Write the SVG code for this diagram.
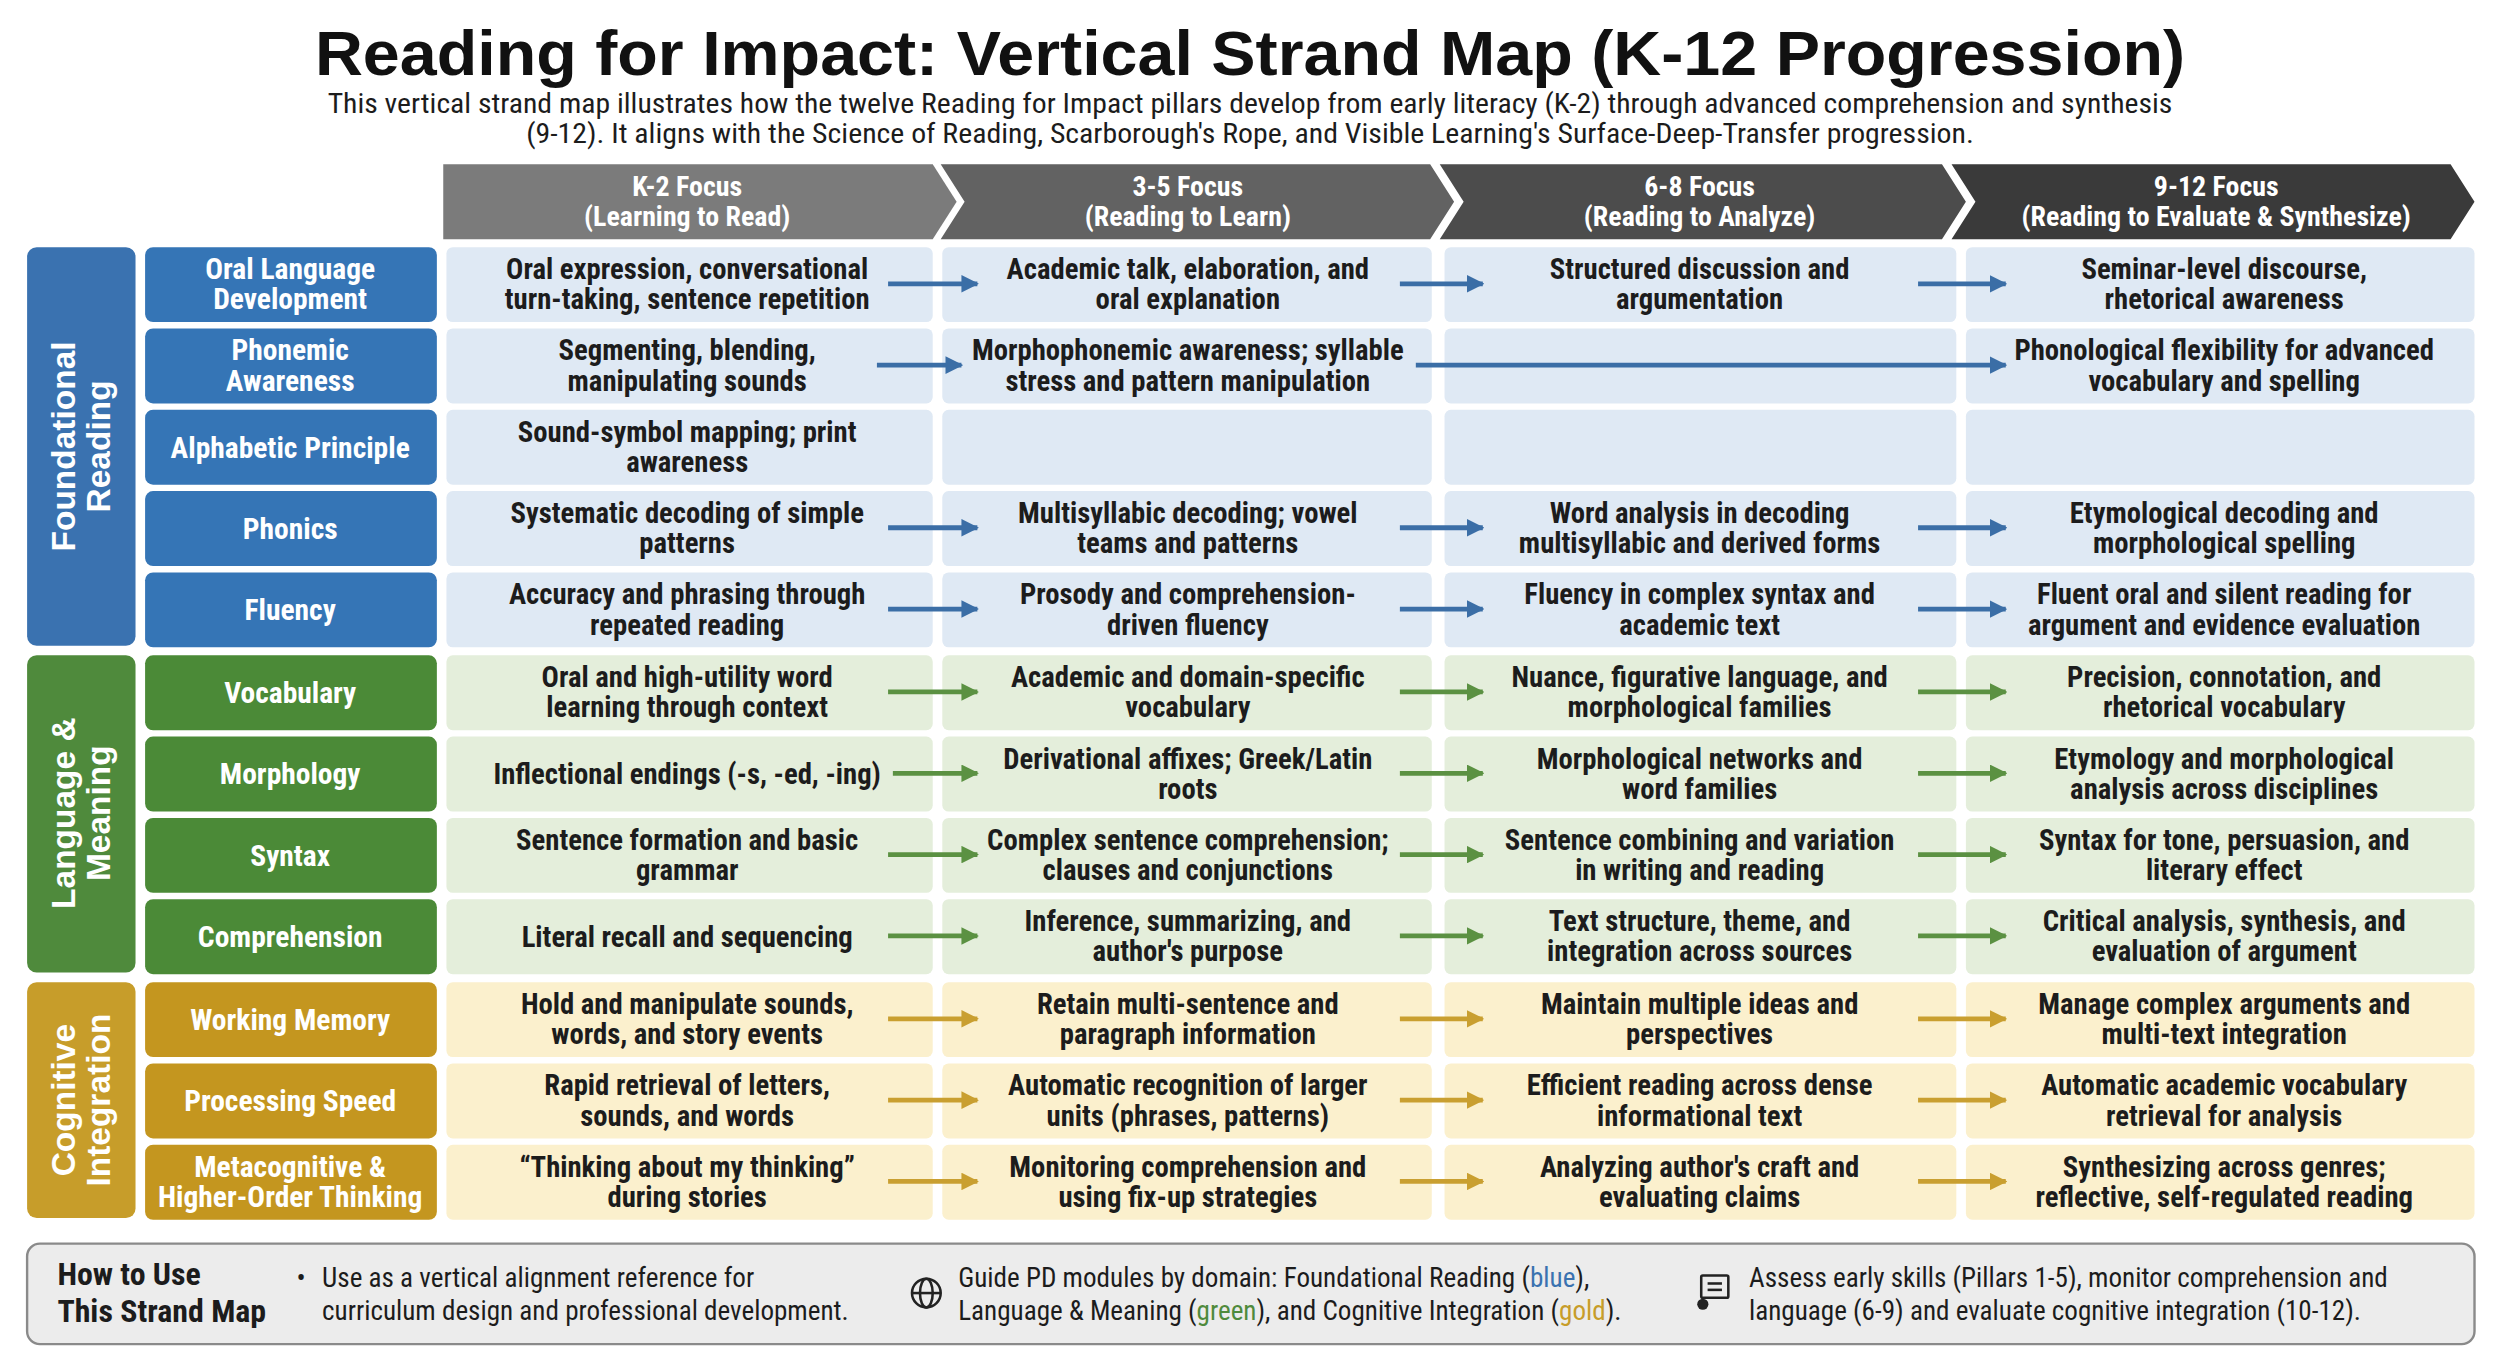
<svg xmlns="http://www.w3.org/2000/svg" width="2500" height="1364" viewBox="0 0 2500 1364">
<style>
.n{font-family:"Liberation Sans Narrow","Roboto Condensed","DejaVu Sans Condensed",sans-serif;font-weight:bold}
.c{font-size:18px;fill:#1c1c1c;text-anchor:middle}
.p{font-size:18.5px;fill:#fff;text-anchor:middle}
.h{font-size:17.5px;fill:#fff;text-anchor:middle}
.s{font-family:"Liberation Sans",Arial,sans-serif;font-weight:bold;font-size:21px;fill:#fff;text-anchor:middle}
.cb{fill:#dfe9f4}.cg{fill:#e4eedb}.cy{fill:#fbf0cd}
.ab{stroke:#3b6ea6;stroke-width:3;marker-end:url(#mb)}
.ag{stroke:#5b9142;stroke-width:3;marker-end:url(#mg)}
.ay{stroke:#c99f30;stroke-width:3;marker-end:url(#my)}
.f{font-family:"Liberation Sans Narrow","Roboto Condensed","DejaVu Sans Condensed",sans-serif;font-size:17px;fill:#1c1c1c}
</style>
<defs>
<marker id="mb" markerWidth="11" markerHeight="11" refX="10" refY="5.5" orient="auto" markerUnits="userSpaceOnUse"><path d="M0,0 L11,5.5 L0,11 z" fill="#3b6ea6"/></marker>
<marker id="mg" markerWidth="11" markerHeight="11" refX="10" refY="5.5" orient="auto" markerUnits="userSpaceOnUse"><path d="M0,0 L11,5.5 L0,11 z" fill="#5b9142"/></marker>
<marker id="my" markerWidth="11" markerHeight="11" refX="10" refY="5.5" orient="auto" markerUnits="userSpaceOnUse"><path d="M0,0 L11,5.5 L0,11 z" fill="#c99f30"/></marker>
</defs>
<rect width="2500" height="1364" fill="#fff"/>
<g transform="scale(1.5944)">
<g id="title">
<text x="784" y="47" text-anchor="middle" font-family="Liberation Sans,Arial,sans-serif" font-weight="bold" font-size="40" fill="#111" textLength="1173" lengthAdjust="spacingAndGlyphs">Reading for Impact: Vertical Strand Map (K-12 Progression)</text>
<text x="784" y="71" text-anchor="middle" class="f" font-size="17" textLength="1157" lengthAdjust="spacingAndGlyphs">This vertical strand map illustrates how the twelve Reading for Impact pillars develop from early literacy (K-2) through advanced comprehension and synthesis</text>
<text x="784" y="90" text-anchor="middle" class="f" font-size="17" textLength="908" lengthAdjust="spacingAndGlyphs">(9-12). It aligns with the Science of Reading, Scarborough's Rope, and Visible Learning's Surface-Deep-Transfer progression.</text>
</g>
<g id="headers">
<polygon points="278,103 585,103 600,126.5 585,150 278,150" fill="#7b7b7b"/>
<polygon points="590,103 897,103 912,126.5 897,150 590,150 605,126.5" fill="#626262"/>
<polygon points="903,103 1218,103 1233,126.5 1218,150 903,150 918,126.5" fill="#4c4c4c"/>
<polygon points="1224,103 1537,103 1552,126.5 1537,150 1224,150 1239,126.5" fill="#3a3a3a"/>
<text class="n h" x="431" y="123">K-2 Focus</text><text class="n h" x="431" y="142">(Learning to Read)</text>
<text class="n h" x="745" y="123">3-5 Focus</text><text class="n h" x="745" y="142">(Reading to Learn)</text>
<text class="n h" x="1066" y="123">6-8 Focus</text><text class="n h" x="1066" y="142">(Reading to Analyze)</text>
<text class="n h" x="1390" y="123">9-12 Focus</text><text class="n h" x="1390" y="142">(Reading to Evaluate &amp; Synthesize)</text>
</g>
<g id="strands">
<rect x="17" y="155" width="68" height="250" rx="6" fill="#3a72b0"/>
<text class="s" transform="translate(51,280) rotate(-90)"><tspan x="0" y="-4">Foundational</tspan><tspan x="0" y="18">Reading</tspan></text>
<rect x="17" y="411" width="68" height="199" rx="6" fill="#4f8a3c"/>
<text class="s" transform="translate(51,510) rotate(-90)"><tspan x="0" y="-4">Language &amp;</tspan><tspan x="0" y="18">Meaning</tspan></text>
<rect x="17" y="616" width="68" height="148" rx="6" fill="#c79d2a"/>
<text class="s" transform="translate(51,690) rotate(-90)"><tspan x="0" y="-4">Cognitive</tspan><tspan x="0" y="18">Integration</tspan></text>
</g>
<g id="pillars">
<rect x="91" y="155" width="183" height="47" rx="5" fill="#3575b6"/><text class="n p" x="182" y="175">Oral Language</text><text class="n p" x="182" y="194">Development</text>
<rect x="91" y="206" width="183" height="47" rx="5" fill="#3575b6"/><text class="n p" x="182" y="226">Phonemic</text><text class="n p" x="182" y="245">Awareness</text>
<rect x="91" y="257" width="183" height="47" rx="5" fill="#3575b6"/><text class="n p" x="182" y="287">Alphabetic Principle</text>
<rect x="91" y="308" width="183" height="47" rx="5" fill="#3575b6"/><text class="n p" x="182" y="338">Phonics</text>
<rect x="91" y="359" width="183" height="47" rx="5" fill="#3575b6"/><text class="n p" x="182" y="389">Fluency</text>
<rect x="91" y="411" width="183" height="47" rx="5" fill="#4b8a37"/><text class="n p" x="182" y="441">Vocabulary</text>
<rect x="91" y="462" width="183" height="47" rx="5" fill="#4b8a37"/><text class="n p" x="182" y="492">Morphology</text>
<rect x="91" y="513" width="183" height="47" rx="5" fill="#4b8a37"/><text class="n p" x="182" y="543">Syntax</text>
<rect x="91" y="564" width="183" height="47" rx="5" fill="#4b8a37"/><text class="n p" x="182" y="594">Comprehension</text>
<rect x="91" y="616" width="183" height="47" rx="5" fill="#c4961f"/><text class="n p" x="182" y="646">Working Memory</text>
<rect x="91" y="667" width="183" height="47" rx="5" fill="#c4961f"/><text class="n p" x="182" y="697">Processing Speed</text>
<rect x="91" y="718" width="183" height="47" rx="5" fill="#c4961f"/><text class="n p" x="182" y="738">Metacognitive &amp;</text><text class="n p" x="182" y="757">Higher-Order Thinking</text>
</g>
<g id="cells">
<g class="cb">
<rect x="280" y="155" width="305" height="47" rx="4"/><rect x="591" y="155" width="307" height="47" rx="4"/><rect x="906" y="155" width="321" height="47" rx="4"/><rect x="1233" y="155" width="319" height="47" rx="4"/>
<rect x="280" y="206" width="305" height="47" rx="4"/><rect x="591" y="206" width="307" height="47" rx="4"/><rect x="906" y="206" width="321" height="47" rx="4"/><rect x="1233" y="206" width="319" height="47" rx="4"/>
<rect x="280" y="257" width="305" height="47" rx="4"/><rect x="591" y="257" width="307" height="47" rx="4"/><rect x="906" y="257" width="321" height="47" rx="4"/><rect x="1233" y="257" width="319" height="47" rx="4"/>
<rect x="280" y="308" width="305" height="47" rx="4"/><rect x="591" y="308" width="307" height="47" rx="4"/><rect x="906" y="308" width="321" height="47" rx="4"/><rect x="1233" y="308" width="319" height="47" rx="4"/>
<rect x="280" y="359" width="305" height="47" rx="4"/><rect x="591" y="359" width="307" height="47" rx="4"/><rect x="906" y="359" width="321" height="47" rx="4"/><rect x="1233" y="359" width="319" height="47" rx="4"/>
</g>
<g class="cg">
<rect x="280" y="411" width="305" height="47" rx="4"/><rect x="591" y="411" width="307" height="47" rx="4"/><rect x="906" y="411" width="321" height="47" rx="4"/><rect x="1233" y="411" width="319" height="47" rx="4"/>
<rect x="280" y="462" width="305" height="47" rx="4"/><rect x="591" y="462" width="307" height="47" rx="4"/><rect x="906" y="462" width="321" height="47" rx="4"/><rect x="1233" y="462" width="319" height="47" rx="4"/>
<rect x="280" y="513" width="305" height="47" rx="4"/><rect x="591" y="513" width="307" height="47" rx="4"/><rect x="906" y="513" width="321" height="47" rx="4"/><rect x="1233" y="513" width="319" height="47" rx="4"/>
<rect x="280" y="564" width="305" height="47" rx="4"/><rect x="591" y="564" width="307" height="47" rx="4"/><rect x="906" y="564" width="321" height="47" rx="4"/><rect x="1233" y="564" width="319" height="47" rx="4"/>
</g>
<g class="cy">
<rect x="280" y="616" width="305" height="47" rx="4"/><rect x="591" y="616" width="307" height="47" rx="4"/><rect x="906" y="616" width="321" height="47" rx="4"/><rect x="1233" y="616" width="319" height="47" rx="4"/>
<rect x="280" y="667" width="305" height="47" rx="4"/><rect x="591" y="667" width="307" height="47" rx="4"/><rect x="906" y="667" width="321" height="47" rx="4"/><rect x="1233" y="667" width="319" height="47" rx="4"/>
<rect x="280" y="718" width="305" height="47" rx="4"/><rect x="591" y="718" width="307" height="47" rx="4"/><rect x="906" y="718" width="321" height="47" rx="4"/><rect x="1233" y="718" width="319" height="47" rx="4"/>
</g>
<g class="n c">
<text x="431" y="175">Oral expression, conversational</text><text x="431" y="194">turn-taking, sentence repetition</text>
<text x="745" y="175">Academic talk, elaboration, and</text><text x="745" y="194">oral explanation</text>
<text x="1066" y="175">Structured discussion and</text><text x="1066" y="194">argumentation</text>
<text x="1395" y="175">Seminar-level discourse,</text><text x="1395" y="194">rhetorical awareness</text>

<text x="431" y="226">Segmenting, blending,</text><text x="431" y="245">manipulating sounds</text>
<text x="745" y="226">Morphophonemic awareness; syllable</text><text x="745" y="245">stress and pattern manipulation</text>
<text x="1395" y="226">Phonological flexibility for advanced</text><text x="1395" y="245">vocabulary and spelling</text>

<text x="431" y="277">Sound-symbol mapping; print</text><text x="431" y="296">awareness</text>

<text x="431" y="328">Systematic decoding of simple</text><text x="431" y="347">patterns</text>
<text x="745" y="328">Multisyllabic decoding; vowel</text><text x="745" y="347">teams and patterns</text>
<text x="1066" y="328">Word analysis in decoding</text><text x="1066" y="347">multisyllabic and derived forms</text>
<text x="1395" y="328">Etymological decoding and</text><text x="1395" y="347">morphological spelling</text>

<text x="431" y="379">Accuracy and phrasing through</text><text x="431" y="398">repeated reading</text>
<text x="745" y="379">Prosody and comprehension-</text><text x="745" y="398">driven fluency</text>
<text x="1066" y="379">Fluency in complex syntax and</text><text x="1066" y="398">academic text</text>
<text x="1395" y="379">Fluent oral and silent reading for</text><text x="1395" y="398">argument and evidence evaluation</text>

<text x="431" y="431">Oral and high-utility word</text><text x="431" y="450">learning through context</text>
<text x="745" y="431">Academic and domain-specific</text><text x="745" y="450">vocabulary</text>
<text x="1066" y="431">Nuance, figurative language, and</text><text x="1066" y="450">morphological families</text>
<text x="1395" y="431">Precision, connotation, and</text><text x="1395" y="450">rhetorical vocabulary</text>

<text x="431" y="492">Inflectional endings (-s, -ed, -ing)</text>
<text x="745" y="482">Derivational affixes; Greek/Latin</text><text x="745" y="501">roots</text>
<text x="1066" y="482">Morphological networks and</text><text x="1066" y="501">word families</text>
<text x="1395" y="482">Etymology and morphological</text><text x="1395" y="501">analysis across disciplines</text>

<text x="431" y="533">Sentence formation and basic</text><text x="431" y="552">grammar</text>
<text x="745" y="533">Complex sentence comprehension;</text><text x="745" y="552">clauses and conjunctions</text>
<text x="1066" y="533">Sentence combining and variation</text><text x="1066" y="552">in writing and reading</text>
<text x="1395" y="533">Syntax for tone, persuasion, and</text><text x="1395" y="552">literary effect</text>

<text x="431" y="594">Literal recall and sequencing</text>
<text x="745" y="584">Inference, summarizing, and</text><text x="745" y="603">author's purpose</text>
<text x="1066" y="584">Text structure, theme, and</text><text x="1066" y="603">integration across sources</text>
<text x="1395" y="584">Critical analysis, synthesis, and</text><text x="1395" y="603">evaluation of argument</text>

<text x="431" y="636">Hold and manipulate sounds,</text><text x="431" y="655">words, and story events</text>
<text x="745" y="636">Retain multi-sentence and</text><text x="745" y="655">paragraph information</text>
<text x="1066" y="636">Maintain multiple ideas and</text><text x="1066" y="655">perspectives</text>
<text x="1395" y="636">Manage complex arguments and</text><text x="1395" y="655">multi-text integration</text>

<text x="431" y="687">Rapid retrieval of letters,</text><text x="431" y="706">sounds, and words</text>
<text x="745" y="687">Automatic recognition of larger</text><text x="745" y="706">units (phrases, patterns)</text>
<text x="1066" y="687">Efficient reading across dense</text><text x="1066" y="706">informational text</text>
<text x="1395" y="687">Automatic academic vocabulary</text><text x="1395" y="706">retrieval for analysis</text>

<text x="431" y="738">“Thinking about my thinking”</text><text x="431" y="757">during stories</text>
<text x="745" y="738">Monitoring comprehension and</text><text x="745" y="757">using fix-up strategies</text>
<text x="1066" y="738">Analyzing author's craft and</text><text x="1066" y="757">evaluating claims</text>
<text x="1395" y="738">Synthesizing across genres;</text><text x="1395" y="757">reflective, self-regulated reading</text>
</g>
</g>
<g id="connectors">
<line class="ab" x1="557" y1="178" x2="613" y2="178"/><line class="ab" x1="878" y1="178" x2="930" y2="178"/><line class="ab" x1="1203" y1="178" x2="1258" y2="178"/>
<line class="ab" x1="550" y1="229" x2="603" y2="229"/><line class="ab" x1="888" y1="229" x2="1258" y2="229"/>
<line class="ab" x1="557" y1="331" x2="613" y2="331"/><line class="ab" x1="878" y1="331" x2="930" y2="331"/><line class="ab" x1="1203" y1="331" x2="1258" y2="331"/>
<line class="ab" x1="557" y1="382" x2="613" y2="382"/><line class="ab" x1="878" y1="382" x2="930" y2="382"/><line class="ab" x1="1203" y1="382" x2="1258" y2="382"/>
<line class="ag" x1="557" y1="434" x2="613" y2="434"/><line class="ag" x1="878" y1="434" x2="930" y2="434"/><line class="ag" x1="1203" y1="434" x2="1258" y2="434"/>
<line class="ag" x1="560" y1="485" x2="613" y2="485"/><line class="ag" x1="878" y1="485" x2="930" y2="485"/><line class="ag" x1="1203" y1="485" x2="1258" y2="485"/>
<line class="ag" x1="557" y1="536" x2="613" y2="536"/><line class="ag" x1="878" y1="536" x2="930" y2="536"/><line class="ag" x1="1203" y1="536" x2="1258" y2="536"/>
<line class="ag" x1="557" y1="587" x2="613" y2="587"/><line class="ag" x1="878" y1="587" x2="930" y2="587"/><line class="ag" x1="1203" y1="587" x2="1258" y2="587"/>
<line class="ay" x1="557" y1="639" x2="613" y2="639"/><line class="ay" x1="878" y1="639" x2="930" y2="639"/><line class="ay" x1="1203" y1="639" x2="1258" y2="639"/>
<line class="ay" x1="557" y1="690" x2="613" y2="690"/><line class="ay" x1="878" y1="690" x2="930" y2="690"/><line class="ay" x1="1203" y1="690" x2="1258" y2="690"/>
<line class="ay" x1="557" y1="741" x2="613" y2="741"/><line class="ay" x1="878" y1="741" x2="930" y2="741"/><line class="ay" x1="1203" y1="741" x2="1258" y2="741"/>
</g>
<g id="howto">
<rect x="17" y="780" width="1535" height="63" rx="8" fill="#ececec" stroke="#8a8a8a" stroke-width="1.5"/>
<text class="n" x="36" y="806" font-size="20" fill="#1c1c1c">How to Use</text><text class="n" x="36" y="829" font-size="20" fill="#1c1c1c">This Strand Map</text>
<text class="f" x="186" y="807">•</text>
<text class="f" x="202" y="807">Use as a vertical alignment reference for</text><text class="f" x="202" y="828">curriculum design and professional development.</text>
<g fill="none" stroke="#222" stroke-width="1.6"><circle cx="581" cy="811" r="9"/><ellipse cx="581" cy="811" rx="4" ry="9"/><line x1="572" y1="811" x2="590" y2="811"/></g>
<text class="f" x="601" y="807">Guide PD modules by domain: Foundational Reading (<tspan fill="#3a72b0">blue</tspan>),</text>
<text class="f" x="601" y="828">Language &amp; Meaning (<tspan fill="#4f8a3c">green</tspan>), and Cognitive Integration (<tspan fill="#c79d2a">gold</tspan>).</text>
<g fill="none" stroke="#222" stroke-width="1.6"><rect x="1067" y="800" width="17" height="14" rx="1"/><line x1="1071" y1="805" x2="1080" y2="805"/><line x1="1071" y1="809" x2="1080" y2="809"/></g><circle cx="1068" cy="818" r="3.5" fill="#222"/>
<text class="f" x="1097" y="807">Assess early skills (Pillars 1-5), monitor comprehension and</text>
<text class="f" x="1097" y="828">language (6-9) and evaluate cognitive integration (10-12).</text>
</g>
</g>
</svg>
